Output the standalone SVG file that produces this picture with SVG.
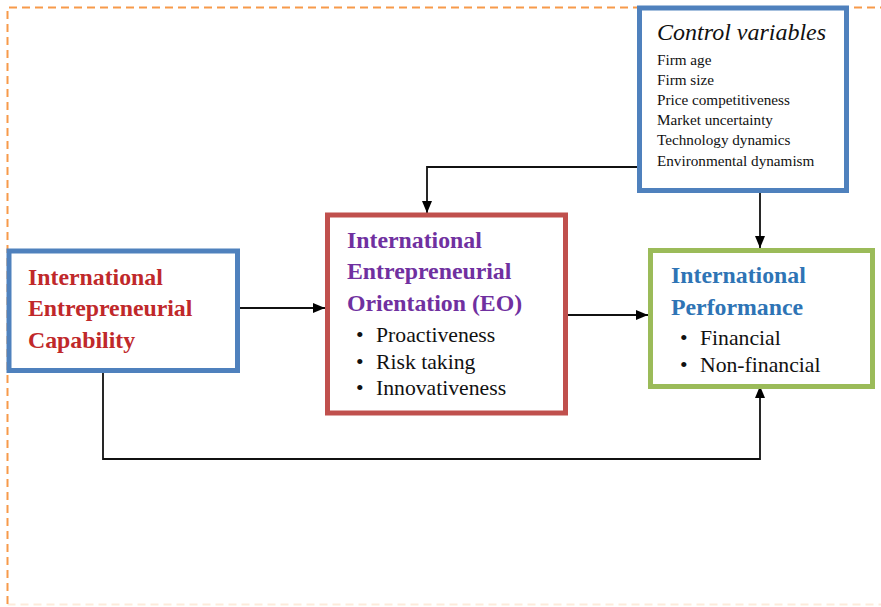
<svg xmlns="http://www.w3.org/2000/svg" width="881" height="607" viewBox="0 0 881 607">
  <defs>
    <marker id="arrow" viewBox="0 0 12 10" refX="12" refY="5" markerWidth="12" markerHeight="10" markerUnits="userSpaceOnUse" orient="auto">
      <path d="M0,0 L12,5 L0,10 Z" fill="#000"/>
    </marker>
  </defs>
  <style>
    .frame { fill: none; stroke: #f79a4a; stroke-width: 2; stroke-dasharray: 8 5; }
    .box { fill: #fff; stroke-width: 5; }
    .title { font-family: "Liberation Serif", "Times New Roman", serif; font-weight: bold; font-size: 23.8px; }
    .item { font-family: "Liberation Serif", "Times New Roman", serif; font-size: 21.7px; fill: #111; }
    .small { font-family: "Liberation Serif", "Times New Roman", serif; font-size: 15.2px; fill: #111; }
    .conn { fill: none; stroke: #111; stroke-width: 1.8; }
  </style>

  <!-- dashed outer frame -->
  <path class="frame" d="M7.5,604 L7.5,7.5 L881,7.5"/>
  <path class="frame" d="M7.5,604.5 L881,604.5" stroke-opacity="0.2"/>

  <!-- connectors -->
  <g id="connectors">
    <path class="conn" d="M240,308 L325,308" marker-end="url(#arrow)"/>
    <path class="conn" d="M563,315 L648,315" marker-end="url(#arrow)"/>
    <path class="conn" d="M637,167 L427,167 L427,213" marker-end="url(#arrow)"/>
    <path class="conn" d="M760,191 L760,248" marker-end="url(#arrow)"/>
    <path class="conn" d="M103,372 L103,459 L760,459 L760,386" marker-end="url(#arrow)"/>
  </g>

  <g id="control-variables">
    <rect class="box" x="639.5" y="8" width="207" height="182.5" stroke="#4f81bd"/>
    <text x="657" y="40" font-family="Liberation Serif, Times New Roman, serif" font-style="italic" font-size="24" fill="#111">Control variables</text>
    <text class="small" x="657" y="64.5">Firm age</text>
    <text class="small" x="657" y="84.8">Firm size</text>
    <text class="small" x="657" y="105">Price competitiveness</text>
    <text class="small" x="657" y="125">Market uncertainty</text>
    <text class="small" x="657" y="145.3">Technology dynamics</text>
    <text class="small" x="657" y="165.5">Environmental dynamism</text>
  </g>

  <g id="capability">
    <rect class="box" x="9" y="251" width="228.5" height="119.5" stroke="#4f81bd"/>
    <text class="title" fill="#c0282a" x="28" y="285">International</text>
    <text class="title" fill="#c0282a" x="28" y="316">Entrepreneurial</text>
    <text class="title" fill="#c0282a" x="28" y="347.5">Capability</text>
  </g>

  <g id="orientation">
    <rect class="box" x="327.5" y="215" width="238" height="198" stroke="#c0504d"/>
    <text class="title" fill="#7030a0" x="347" y="247.5">International</text>
    <text class="title" fill="#7030a0" x="347" y="279">Entrepreneurial</text>
    <text class="title" fill="#7030a0" x="347" y="311">Orientation (EO)</text>
    <text class="item" x="356" y="342">•</text>
    <text class="item" x="376" y="342">Proactiveness</text>
    <text class="item" x="356" y="369">•</text>
    <text class="item" x="376" y="369">Risk taking</text>
    <text class="item" x="356" y="395">•</text>
    <text class="item" x="376" y="395">Innovativeness</text>
  </g>

  <g id="performance">
    <rect class="box" x="650.5" y="250.5" width="222" height="136" stroke="#9bbb59"/>
    <text class="title" fill="#2e74b5" x="671" y="283">International</text>
    <text class="title" fill="#2e74b5" x="671" y="314.5">Performance</text>
    <text class="item" x="680" y="345">•</text>
    <text class="item" x="700" y="345">Financial</text>
    <text class="item" x="680" y="371.5">•</text>
    <text class="item" x="700" y="371.5">Non-financial</text>
  </g>
</svg>
